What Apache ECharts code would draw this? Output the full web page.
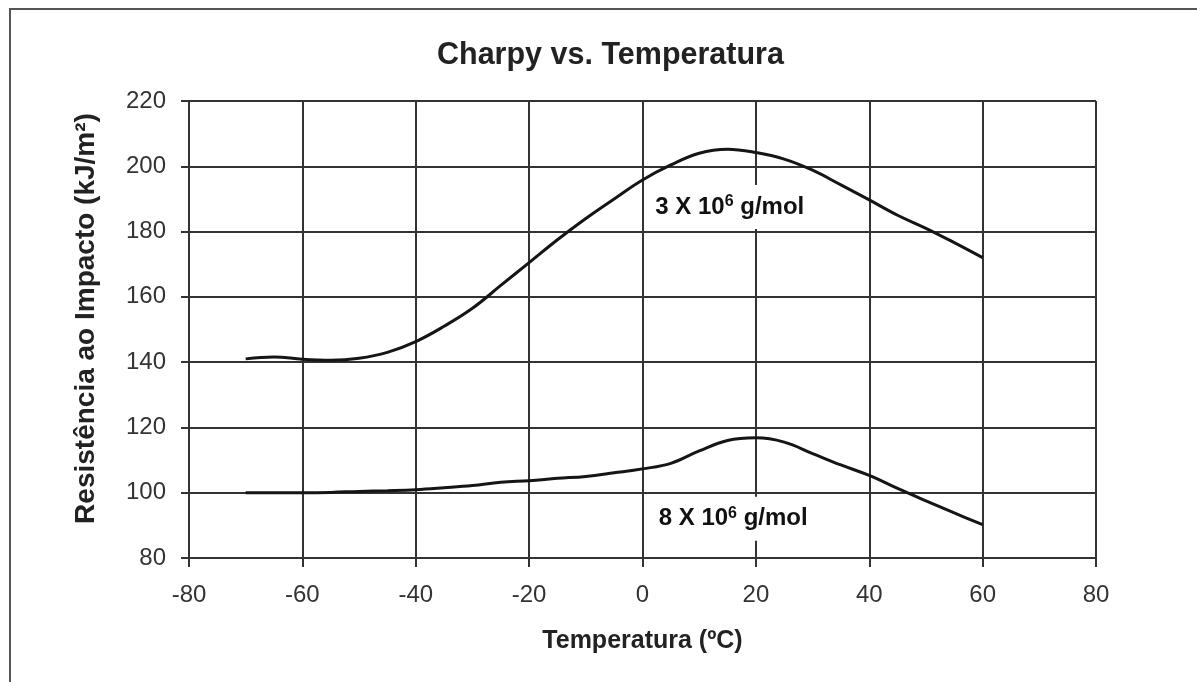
<!DOCTYPE html>
<html>
<head>
<meta charset="utf-8">
<script src="https://cdn.jsdelivr.net/npm/echarts@6/dist/echarts.min.js"></script>
<style>
html,body{margin:0;padding:0;background:#fff;}
#chart{width:1197px;height:682px;}
</style>
</head>
<body>
<div id="chart"></div>
<script>
const titleText = 'Charpy vs. Temperatura';
const xName = 'Temperatura (ºC)';
const yName = 'Resistência ao Impacto (kJ/m²)';
const temps = [-70,-65,-60,-55,-50,-45,-40,-35,-30,-25,-20,-15,-10,-5,0,5,10,15,20,25,30,35,40,45,50,55,60];
const mw3 = [141,141.6,140.9,140.6,141.2,143,146.3,151,156.5,163.5,170.5,177.5,184,190,195.8,200.4,204,205.2,204.2,202.2,198.8,194.3,189.7,185,181,176.6,172];
const mw8 = [100,100,100,100.1,100.4,100.6,100.9,101.5,102.2,103.2,103.7,104.4,105,106.1,107.3,109,112.8,116,116.8,115.5,112,108.5,105.3,101.3,97.5,93.8,90.2];
const annLabels = ['3 X 10{s|6} g/mol', '8 X 10{s|6} g/mol'];
const annT = [15.4, 16.0];
const annV = [187.5, 92];

const chart = echarts.init(document.getElementById('chart'), null, {renderer:'canvas'});
const lineColor = '#333';
const font = "'Liberation Sans', Arial, Helvetica, sans-serif";
const pairs = (xs, ys) => xs.map((x, i) => [x, ys[i]]);

chart.setOption({
  backgroundColor: '#fff',
  animation: false,
  title: {
    text: titleText,
    left: 432, top: 35,
    textStyle: {fontFamily: font, fontSize: 30.5, fontWeight: 'bold', color: '#222'}
  },
  graphic: [{
    type: 'rect', silent: true,
    shape: {x: 10, y: 9, width: 1400, height: 900},
    style: {fill: 'none', stroke: '#555', lineWidth: 2}
  }],
  grid: {left: 189, right: 101, top: 101, bottom: 124},
  xAxis: {
    type: 'value', min: -80, max: 80, interval: 20,
    name: xName, nameLocation: 'middle', nameGap: 71,
    nameTextStyle: {fontFamily: font, fontSize: 25, fontWeight: 'bold', color: '#222'},
    axisLine: {show: true, onZero: false, lineStyle: {color: lineColor, width: 2}},
    axisTick: {show: true, length: 9, lineStyle: {color: lineColor, width: 2}},
    axisLabel: {margin: 25, fontFamily: font, fontSize: 24, color: '#333'},
    splitLine: {show: true, lineStyle: {color: lineColor, width: 2}}
  },
  yAxis: {
    type: 'value', min: 80, max: 220, interval: 20,
    name: yName, nameLocation: 'middle', nameGap: 89, nameRotate: 90,
    nameTextStyle: {fontFamily: font, fontSize: 28, fontWeight: 'bold', color: '#222', padding: [0,0,0,22]},
    axisLine: {show: true, onZero: false, lineStyle: {color: lineColor, width: 2}},
    axisTick: {show: true, length: 8, lineStyle: {color: lineColor, width: 2}},
    axisLabel: {margin: 23, fontFamily: font, fontSize: 24, color: '#333'},
    splitLine: {show: true, lineStyle: {color: lineColor, width: 2}}
  },
  series: [
    {
      type: 'line', name: '3 X 10^6 g/mol', data: pairs(temps, mw3),
      smooth: 0.4, showSymbol: false, symbol: 'none',
      lineStyle: {color: '#151515', width: 3}, z: 3
    },
    {
      type: 'line', name: '8 X 10^6 g/mol', data: pairs(temps, mw8),
      smooth: 0.4, showSymbol: false, symbol: 'none',
      lineStyle: {color: '#151515', width: 3}, z: 3
    },
    {
      type: 'scatter', symbolSize: 0, z: 2, silent: true,
      itemStyle: {opacity: 1},
      data: annLabels.map((t, i) => ({value: [annT[i], annV[i]], label: {formatter: t}})),
      label: {
        show: true, position: 'inside', opacity: 1,
        fontFamily: font, fontSize: 24, fontWeight: 'bold', color: '#111',
        backgroundColor: '#fff', padding: [9, 10, 9, 10],
        rich: {
          s: {fontFamily: font, fontSize: 16, fontWeight: 'bold', color: '#111', verticalAlign: 'top', padding: [0,0,10,0]}
        }
      }
    }
  ]
});
</script>
</body>
</html>
